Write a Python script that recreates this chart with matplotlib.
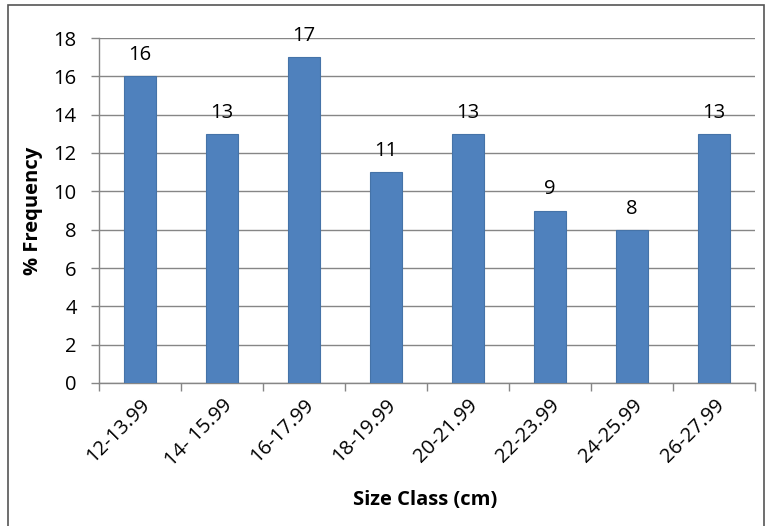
import matplotlib.pyplot as plt
from matplotlib.patches import Rectangle

categories = ["12-13.99", "14- 15.99", "16-17.99", "18-19.99", "20-21.99", "22-23.99", "24-25.99", "26-27.99"]
values = [16, 13, 17, 11, 13, 9, 8, 13]
yticks = [0, 2, 4, 6, 8, 10, 12, 14, 16, 18]

plt.rcParams['font.family'] = ['Open Sans', 'DejaVu Sans']

fig = plt.figure(figsize=(7.66, 5.26), dpi=100)
ax = fig.add_axes([99/766, 1 - 383/526, (755-99)/766, (383-38)/526])

x = list(range(len(categories)))
bars = ax.bar(x, values, width=0.4, color='#4F81BD', edgecolor='#4573A8', linewidth=0.8, zorder=3)
for xi, v in zip(x, values):
    ax.annotate(str(v), (xi, v), xytext=(0, 8), textcoords='offset points',
                ha='center', va='bottom', fontsize=14.5)

ax.set_xlim(-0.5, len(categories) - 0.5)
ax.set_ylim(0, 18)
ax.set_yticks(yticks)
ax.set_yticklabels([str(t) for t in yticks], fontsize=14.5)
ax.set_xticks(x)
ax.set_xticklabels(categories, rotation=45, ha='right', rotation_mode='anchor', fontsize=14.5)
ax.tick_params(axis='x', length=0, pad=9)
ax.set_xticks([i - 0.5 for i in range(len(categories) + 1)], minor=True)
ax.tick_params(axis='x', which='minor', length=6, color='#868686', width=1)
ax.tick_params(axis='y', length=6, color='#868686', width=1, direction='out', pad=10)
ax.grid(axis='y', color='#868686', linewidth=1, zorder=0)

for s in ['top', 'right']:
    ax.spines[s].set_visible(False)
for s in ['left', 'bottom']:
    ax.spines[s].set_color('#868686')
    ax.spines[s].set_linewidth(1)

ax.set_ylabel('% Frequency', fontsize=14.5, fontweight='bold', labelpad=8)
fig.text(425/766, 1 - 500/526, 'Size Class (cm)', fontsize=14.5, fontweight='bold', ha='center', va='center')

fig.patches.append(Rectangle((8/766, -0.01), (764-8)/766, 1 - 5/526 + 0.01, transform=fig.transFigure,
                             fill=False, edgecolor='#555555', linewidth=1.2))

fig.savefig('out.png', dpi=100)
